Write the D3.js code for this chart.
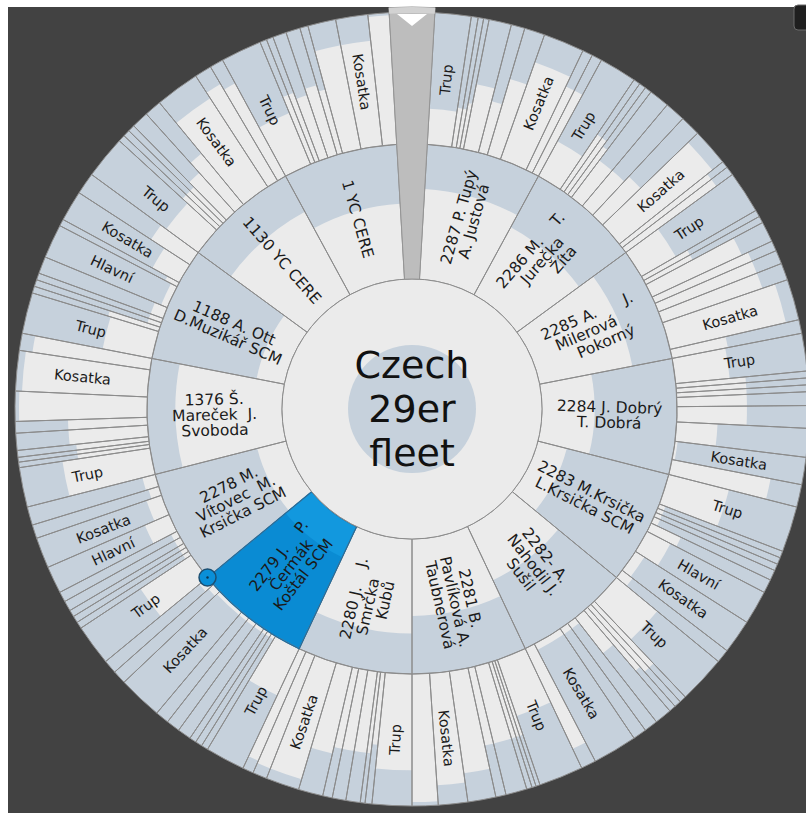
<!DOCTYPE html>
<html>
<head>
<meta charset="utf-8">
<script src="https://cdn.jsdelivr.net/npm/d3@7"></script>
<style>
	body { margin: 0; background: #fff; }
	svg { display: block; font-family: "DejaVu Sans", Verdana, sans-serif; }
	text { white-space: pre; }
</style>
</head>
<body>
<svg id="chart" width="806" height="814"></svg>
<script>
// boats (middle ring), clockwise from the pointer
const boatLabels = [
	["2287 P. Tupý", "A. Justová"],
	["2286 M.    T.", "Jurečka", "      Žíta"],
	["2285 A.      J.", "Milerová   ", "   Pokorný"],
	["2284 J. Dobrý", "T. Dobrá"],
	["2283 M.Krsička", "L.Krsička SCM"],
	["2282- A.", "Nahodil J.", "Sušil"],
	["2281 B.", "Pavlíková A.", "Taubnerová"],
	["2280 J.    J.", "Smrčka  ", "  Kubů"],
	["2279 J.    P.", "Čermák", "Koštál SCM"],
	["2278 M.", "Vítovec  M.", "Krsička SCM"],
	["1376 Š.", "Mareček  J.", "Svoboda"],
	["1188 A. Ott", "D.Muzikář SCM"],
	["1130 YC CERE"],
	["1 YC CERE"]
]
const boatLevels = [0.67, 0.57, 0.7, 0.39, 0.22, 0.44, 0.57, 0.7, 0.25, 0.22, 0.79, 0.21, 0.7, 0.56]
const selectedBoat = 8

// parts of each boat (outer ring): size, level and label
const partSizes = [
	[5.3, 1, 0.8, 0.8, 3.3, 2, 3, 6, 1.5, 1.5],
	[5.5, 1, 1, 1, 3, 3, 3, 5.5, 1, 1.3],
	[6.2, 1, 1, 3, 1.5, 2, 2.5, 6, 2],
	[5.5, 1, 1, 1, 2, 3.3, 4.2, 4, 3.3],
	[6.7, 1, 1, 1, 1.5, 2, 5, 5, 2],
	[7, 1, 1, 1, 2.5, 2, 2, 6.5, 2.2],
	[6.5, 0.6, 0.6, 0.8, 3.1, 1.5, 4.1, 4.3, 3.8],
	[5.8, 1, 0.7, 2.1, 2, 1.4, 3.6, 4.9, 2.1, 1.6],
	[5.8, 1, 1, 1, 2, 2, 2, 6.5, 2, 2],
	[6, 1, 1, 1, 1.5, 1.5, 4, 4.5, 2, 2.7],
	[5.8, 0.8, 0.7, 1, 2.5, 1.7, 4.4, 5.9, 2.5],
	[6, 1, 1, 1, 2.5, 5, 1, 4.5, 3.2],
	[6.3, 1, 1, 1, 2.5, 2.5, 6.5, 2.5, 2],
	[6, 1, 1, 2, 2.1, 1.2, 4.1, 4.7, 3.1]
]
const partLevels = [
	[0.27, 0.3, 0.3, 0.35, 0.5, 0.4, 0.6, 0.78, 0.7, 0.7],
	[0.3, 0.5, 0.5, 0.45, 0.35, 0.35, 0.4, 0.9, 0.85, 0.85],
	[0.3, 0.4, 0.4, 0.75, 0.8, 0.8, 0.8, 0.9, 0.43],
	[0.41, 0.53, 0.53, 0.53, 0.53, 0.53, 0.31, 0.02, 0.76],
	[0.47, 0.05, 0.05, 0.05, 0.05, 0.25, 0.2, 0.08, 0.1],
	[0.4, 0.65, 0.65, 0.6, 0.34, 0.05, 0.05, 0.05, 0.84],
	[0.45, 0.6, 0.6, 0.6, 0.6, 0.6, 0.78, 0.85, 0.97],
	[0.73, 0.55, 0.62, 0.62, 0.62, 0.62, 0.67, 0.92, 0.92, 0.9],
	[0.39, 0.03, 0.03, 0.03, 0.03, 0.03, 0.03, 0.03, 0.05, 0.08],
	[0.46, 0.05, 0.05, 0.05, 0.05, 0.05, 0.2, 0.12, 0.08, 0.1],
	[0.67, 0.55, 0.55, 0.55, 0.6, 0.6, 0.97, 0.95, 0.9],
	[0.38, 0.4, 0.1, 0.1, 0.1, 0.05, 0.1, 0.23, 0.35],
	[0.3, 0.35, 0.35, 0.35, 0.4, 0.5, 0.8, 0.85, 0.8],
	[0.42, 0.55, 0.55, 0.5, 0.55, 0.5, 0.8, 0.8, 0.98]
]
const partLabels = [
	["Trup", "", "", "", "", "", "", "Kosatka", "", ""],
	["Trup", "", "", "", "", "", "", "Kosatka", "", ""],
	["Trup", "", "", "", "", "", "", "Kosatka", ""],
	["Trup", "", "", "", "", "", "", "Kosatka", ""],
	["Trup", "", "", "", "", "", "Hlavní", "Kosatka", ""],
	["Trup", "", "", "", "", "", "", "Kosatka", ""],
	["Trup", "", "", "", "", "", "", "Kosatka", ""],
	["Trup", "", "", "", "", "", "", "Kosatka", "", ""],
	["Trup", "", "", "", "", "", "", "Kosatka", "", ""],
	["Trup", "", "", "", "", "", "Hlavní", "Kosatka", "", ""],
	["Trup", "", "", "", "", "", "", "Kosatka", ""],
	["Trup", "", "", "", "", "Hlavní", "", "Kosatka", ""],
	["Trup", "", "", "", "", "", "Kosatka", "", ""],
	["Trup", "", "", "", "", "", "", "Kosatka", ""]
]
const centerLabel = ["Czech", "29er", "fleet"]

const LIGHT = "#ebebeb"
const BLUE = "#c6d1dc"
const LINE = "#8c8c8c"

const cx = 412, cy = 409
const radii = [0, 130, 265, 397]
const gap = 3.3 // degrees left free on each side of the pointer
const rad = d => d * Math.PI / 180

const root = d3.hierarchy({
	children: boatLabels.map((lines, i) => ({
		lines: lines,
		level: boatLevels[i],
		index: i,
		children: partSizes[i].map((s, j) => ({ size: s, level: partLevels[i][j], name: partLabels[i][j] }))
	}))
}).sum(d => d.size || 0)
d3.partition().size([1, 3])(root)

const angle = d3.scaleLinear().domain([0, 1]).range([rad(gap), rad(360 - gap)])
const inner = d => radii[d.depth]
const outer = d => radii[d.depth + 1]

const arc = d3.arc()
	.startAngle(d => angle(d.x0))
	.endAngle(d => angle(d.x1))
	.innerRadius(inner)
	.outerRadius(outer)
const levelArc = d3.arc()
	.startAngle(d => angle(d.x0))
	.endAngle(d => angle(d.x1))
	.innerRadius(inner)
	.outerRadius(d => inner(d) + d.data.level * (outer(d) - inner(d)))

const svg = d3.select("#chart")
svg.append("rect")
	.attr("x", 8).attr("y", 7).attr("width", 798).attr("height", 806)
	.attr("fill", "#424242")
svg.append("rect")
	.attr("x", 794).attr("y", 5).attr("width", 20).attr("height", 25).attr("rx", 4)
	.attr("fill", "#1f1f1f").attr("stroke", "#6a6a6a")

const g = svg.append("g").attr("transform", `translate(${cx},${cy})`)
const nodes = root.descendants().filter(d => d.depth > 0)
const isSel = d => d.depth === 1 && d.data.index === selectedBoat

g.selectAll("path.base")
	.data(nodes)
	.join("path")
	.attr("class", "base")
	.attr("d", arc)
	.attr("fill", d => isSel(d) ? "#0a8bd3" : BLUE)

g.selectAll("path.level")
	.data(nodes)
	.join("path")
	.attr("class", "level")
	.attr("d", levelArc)
	.attr("fill", d => isSel(d) ? "#1298de" : LIGHT)

g.selectAll("path.edge")
	.data(nodes)
	.join("path")
	.attr("class", "edge")
	.attr("d", arc)
	.attr("fill", "none")
	.attr("stroke", LINE)
	.attr("stroke-width", 1)

// selected boat on top
const sel = nodes.find(isSel)
g.append("path")
	.attr("d", arc(sel))
	.attr("fill", "none")
	.attr("stroke", "#1f6c9e")
	.attr("stroke-width", 1.2)

// centre
g.append("circle").attr("r", radii[1]).attr("fill", LIGHT).attr("stroke", LINE)
g.append("circle").attr("r", 64).attr("fill", BLUE)
g.append("text")
	.attr("text-anchor", "middle")
	.attr("font-size", 38)
	.attr("fill", "#111")
	.selectAll("tspan")
	.data(centerLabel)
	.join("tspan")
	.attr("x", 0)
	.attr("y", (d, i) => (i - 1) * 44 + 13)
	.text(d => d)

// labels
function labelTransform(d) {
	const a = (angle(d.x0) + angle(d.x1)) / 2 * 180 / Math.PI
	const r = (inner(d) + outer(d)) / 2
	return `rotate(${a - 90}) translate(${r},0) rotate(${a < 180 ? 0 : 180})`
}

g.selectAll("text.boat")
	.data(root.children)
	.join("text")
	.attr("class", "boat")
	.attr("transform", labelTransform)
	.attr("text-anchor", "middle")
	.attr("font-size", 15.5)
	.attr("fill", "#1a1a1a")
	.each(function (d) {
		const lines = d.data.lines
		d3.select(this).selectAll("tspan")
			.data(lines)
			.join("tspan")
			.attr("x", 0)
			.attr("y", (t, i) => (i - (lines.length - 1) / 2) * 15.5)
			.attr("dy", "0.35em")
			.text(t => t)
	})

g.selectAll("text.part")
	.data(nodes.filter(d => d.depth === 2 && d.data.name))
	.join("text")
	.attr("class", "part")
	.attr("transform", labelTransform)
	.attr("text-anchor", "middle")
	.attr("dy", "0.35em")
	.attr("font-size", 14.5)
	.attr("fill", "#1a1a1a")
	.text(d => d.data.name)

// handle at the end of the selected boat
const ha = angle(sel.x1)
const handle = g.append("g")
	.attr("transform", `translate(${Math.sin(ha) * radii[2]},${-Math.cos(ha) * radii[2]})`)
handle.append("circle").attr("r", 8.5).attr("fill", "#0a8fd8").attr("stroke", "#1c4f72").attr("stroke-width", 1.5)
handle.append("circle").attr("r", 1.2).attr("fill", "#0c3550")

// pointer wedge at the top
const pointer = d3.arc()
	.innerRadius(radii[1])
	.outerRadius(radii[3] + 5)
	.startAngle(rad(-gap))
	.endAngle(rad(gap))
g.append("path").attr("d", pointer()).attr("fill", "#bdbdbd").attr("stroke", "#959595")
g.append("path")
	.attr("d", d3.arc().innerRadius(radii[3] - 1).outerRadius(radii[3] + 5).startAngle(rad(-gap)).endAngle(rad(gap))())
	.attr("fill", "#d2d2d2")
const ty = -(radii[3] - 2)
g.append("path")
	.attr("d", `M${-15},${ty}L${15},${ty}L0,${ty + 12}Z`)
	.attr("fill", "#fff")
</script>
</body>
</html>
